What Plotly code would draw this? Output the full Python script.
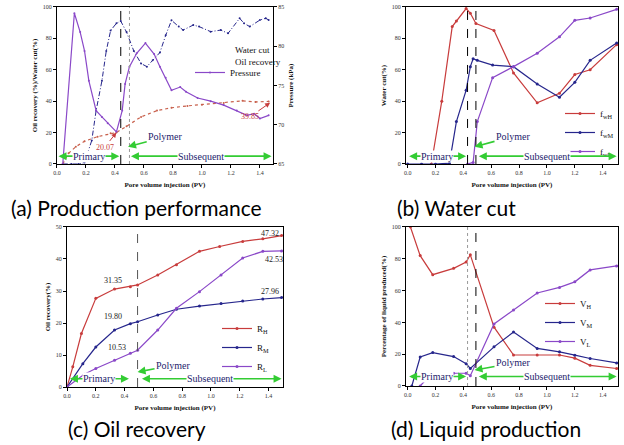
import plotly.graph_objects as go

# ---------------- Panel (a): production performance ----------------
pv_water_cut = [0.04, 0.10, 0.15, 0.19, 0.24, 0.27, 0.31, 0.34, 0.37, 0.41, 0.44, 0.48, 0.53, 0.58, 0.62,
                0.66, 0.71, 0.75, 0.79, 0.84, 0.87, 0.94, 0.98, 1.06, 1.13, 1.18, 1.26, 1.29, 1.33, 1.40, 1.44, 1.46]
water_cut = [0, 0, 0, 1, 15, 34, 53, 72, 85, 89.6, 91, 84, 72, 64, 62,
             66, 71, 82, 91.5, 87.5, 85.3, 88.5, 87.5, 84.3, 85.3, 83.2, 92.8, 89.6, 87.5, 91.7, 92.8, 91.7]

pv_oil = [0.04, 0.08, 0.13, 0.19, 0.28, 0.37, 0.41, 0.48, 0.58, 0.69, 0.79, 0.90, 1.00, 1.15, 1.28, 1.37, 1.46]
oil_recovery = [0, 6.8, 11, 14.5, 17.4, 19.5, 20.07, 24, 30, 34, 35.8, 37, 37.8, 38.8, 40.2, 39.5, 39.85]

pv_pressure = [0.04, 0.12, 0.16, 0.19, 0.22, 0.27, 0.31, 0.35, 0.41, 0.45, 0.47, 0.50, 0.55, 0.61, 0.67,
               0.71, 0.75, 0.79, 0.85, 0.89, 0.97, 1.06, 1.15, 1.24, 1.31, 1.36, 1.40, 1.46]
pressure = [65, 84.2, 81.8, 79.4, 75.6, 71.8, 71.0, 70.2, 69.1, 71.8, 75.2, 77.4, 79.1, 80.4, 79.0,
            77.4, 76.0, 74.4, 74.8, 74.2, 73.4, 73.0, 72.5, 71.8, 71.2, 71.4, 70.8, 71.2]

# ---------------- Panel (b): water cut by layer ----------------
pv_fwH = [0.17, 0.245, 0.32, 0.35, 0.42, 0.45, 0.49, 0.62, 0.76, 0.93, 1.09, 1.20, 1.31, 1.50]
f_wH = [0, 40, 87.5, 91, 99, 96, 89.5, 85, 58, 39, 45, 57, 60, 76]
pv_fwM = [0.0, 0.1, 0.2, 0.30, 0.35, 0.42, 0.45, 0.47, 0.50, 0.61, 0.76, 0.93, 1.09, 1.20, 1.31, 1.50]
f_wM = [0, 0, 0, 0.5, 27, 47, 62, 67, 66, 63, 62, 51, 42.5, 52, 66, 77]
pv_fwL = [0.43, 0.47, 0.50, 0.61, 0.76, 0.93, 1.09, 1.20, 1.31, 1.50]
f_wL = [0, 1, 27, 55, 62, 70.5, 81, 91.5, 93, 98.5]

# ---------------- Panel (c): oil recovery by layer ----------------
pv_RH = [0.0, 0.04, 0.10, 0.20, 0.33, 0.44, 0.49, 0.63, 0.76, 0.92, 1.06, 1.22, 1.36, 1.49]
R_H = [0, 6.3, 16.7, 27.7, 30.6, 31.35, 31.9, 35, 38.2, 42.4, 43.9, 45.5, 46.3, 47.32]
pv_RM = [0.0, 0.11, 0.20, 0.33, 0.44, 0.49, 0.63, 0.76, 0.92, 1.07, 1.22, 1.36, 1.49]
R_M = [0, 7.3, 12.5, 17.8, 19.8, 20.4, 22.5, 24.3, 25.3, 26.1, 26.9, 27.5, 27.96]
pv_RL = [0.0, 0.12, 0.20, 0.33, 0.44, 0.49, 0.63, 0.76, 0.92, 1.07, 1.22, 1.36, 1.49]
R_L = [0, 4, 5.8, 8.4, 10.53, 11.5, 17.8, 24.6, 29.8, 35, 40.3, 42.4, 42.53]

# ---------------- Panel (d): liquid production by layer ----------------
pv_VH = [0.02, 0.09, 0.18, 0.33, 0.42, 0.45, 0.62, 0.76, 0.93, 1.09, 1.20, 1.31, 1.50]
V_H = [100, 82, 70, 74, 78, 82.5, 37, 19.5, 19.5, 19.5, 17.5, 13, 11]
pv_VM = [0.03, 0.09, 0.18, 0.33, 0.42, 0.45, 0.62, 0.76, 0.93, 1.09, 1.20, 1.31, 1.50]
V_M = [0, 18.2, 21, 18.5, 14, 11, 24.6, 34, 23.6, 21.5, 19.4, 17.3, 14.5]
pv_VL = [0.09, 0.18, 0.33, 0.42, 0.45, 0.62, 0.76, 0.93, 1.09, 1.20, 1.31, 1.50]
V_L = [0, 8.5, 8, 8, 6.5, 39, 47.8, 58.5, 62, 65.5, 73, 75.5]

# phase boundaries (PV)
polymer_a = [0.44, 0.50]
polymer_b = [0.43, 0.49]
polymer_c = [0.49]
polymer_d = [0.43, 0.49]

x_ticks = [0.0, 0.2, 0.4, 0.6, 0.8, 1.0, 1.2, 1.4]

RED = "#c83c3c"
OILRED = "#c8604c"
NAVY = "#26268c"
PURPLE = "#8a48c8"
GREEN = "#33cc33"
TXT = "#1c1c6c"
SERIF = "Liberation Serif"

fig = go.Figure()


def add(x, y, xa, ya, name, color, dash="solid", legend="legend", showlegend=True, msize=3, width=1.2):
    fig.add_trace(go.Scatter(
        x=x, y=y, xaxis=xa, yaxis=ya, name=name, mode="lines+markers",
        line=dict(color=color, width=width, dash=dash),
        marker=dict(size=msize, color=color),
        legend=legend, showlegend=showlegend))


# (a)
add(pv_water_cut, water_cut, "x", "y", "Water cut", NAVY, dash="5px,2px,1px,2px", showlegend=False, msize=2, width=1)
add(pv_oil, oil_recovery, "x", "y", "Oil recovery", OILRED, dash="dot", showlegend=False, msize=2)
add(pv_pressure, pressure, "x", "y2", "Pressure", PURPLE, legend="legend", msize=2)
# (b)
add(pv_fwH, f_wH, "x2", "y3", "f<sub>wH</sub>", RED, legend="legend2")
add(pv_fwM, f_wM, "x2", "y3", "f<sub>wM</sub>", NAVY, legend="legend2")
add(pv_fwL, f_wL, "x2", "y3", "f<sub>wL</sub>", PURPLE, legend="legend2")
# (c)
add(pv_RH, R_H, "x3", "y4", "R<sub>H</sub>", RED, legend="legend3")
add(pv_RM, R_M, "x3", "y4", "R<sub>M</sub>", NAVY, legend="legend3")
add(pv_RL, R_L, "x3", "y4", "R<sub>L</sub>", PURPLE, legend="legend3")
# (d)
add(pv_VH, V_H, "x4", "y5", "V<sub>H</sub>", RED, legend="legend4")
add(pv_VM, V_M, "x4", "y5", "V<sub>M</sub>", NAVY, legend="legend4")
add(pv_VL, V_L, "x4", "y5", "V<sub>L</sub>", PURPLE, legend="legend4")

tickfont = dict(family=SERIF, size=6, color="#333333")
titlefont = dict(family=SERIF, size=7, color="#111111", weight="bold")


def xax(domain, anchor, rng):
    return dict(domain=domain, anchor=anchor, range=rng, tickvals=x_ticks, tickformat=".1f",
                showline=True, linecolor="black", linewidth=1, mirror=True, automargin=False,
                ticks="outside", ticklen=3, tickcolor="black", tickfont=tickfont,
                showgrid=False, zeroline=False,
                title=dict(text="Pore volume injection (PV)", font=titlefont, standoff=6))


def yax(domain, anchor, rng, dtick, title, mirror=True):
    return dict(domain=domain, anchor=anchor, range=rng, dtick=dtick, automargin=False,
                showline=True, linecolor="black", linewidth=1, mirror=mirror,
                ticks="outside", ticklen=3, tickcolor="black", tickfont=tickfont,
                showgrid=False, zeroline=False,
                title=dict(text=title, font=titlefont, standoff=4))


top_dom = [0.6315, 0.9843]
fig.update_layout(
    xaxis=xax([0.0913, 0.4375], "y", [0, 1.49]),
    yaxis=yax(top_dom, "x", [0, 100], 20, "Oil recovery (%)/Water cut(%)"),
    yaxis2=dict(overlaying="y", side="right", anchor="x", range=[65, 85], dtick=5, automargin=False,
                showline=True, linecolor="black", linewidth=1,
                ticks="outside", ticklen=3, tickcolor="black", tickfont=tickfont,
                showgrid=False, zeroline=False,
                title=dict(text="Pressure (kPa)", font=titlefont, standoff=4)),
    xaxis2=xax([0.6506, 0.9904], "y3", [-0.012, 1.51]),
    yaxis3=yax(top_dom, "x2", [0, 100], 20, "Water cut(%)"),
    xaxis3=xax([0.1074, 0.4535], "y4", [0, 1.5]),
    yaxis4=yax([0.1303, 0.4899], "x3", [0, 50], 10, "Oil recovery(%)"),
    xaxis4=xax([0.6506, 0.9904], "y5", [-0.012, 1.51]),
    yaxis5=yax([0.1326, 0.4899], "x4", [0, 100], 20, "Percentage of liquid produced(%)"),
)

legfont = dict(family=SERIF, size=9, color="#111111")
leg_common = dict(font=legfont, bgcolor="rgba(0,0,0,0)", borderwidth=0, xanchor="left", yanchor="top",
                  tracegroupgap=0, itemwidth=30)
fig.update_layout(
    legend=dict(x=190 / 624, y=1 - 58 / 445, **leg_common),
    legend2=dict(x=560 / 624, y=1 - 99 / 445, **leg_common),
    legend3=dict(x=217 / 624, y=1 - 314 / 445, **leg_common),
    legend4=dict(x=540 / 624, y=1 - 289 / 445, **leg_common),
)

shapes = []


def vline(xref, yref, x, color, dash):
    shapes.append(dict(type="line", xref=xref, yref=yref + " domain", x0=x, x1=x, y0=0, y1=1,
                       line=dict(color=color, width=1, dash=dash)))


vline("x", "y", polymer_a[0], "black", "dash")
vline("x", "y", polymer_a[1], "#999999", "dot")
vline("x2", "y3", polymer_b[0], "black", "dash")
vline("x2", "y3", polymer_b[1], "black", "dash")
vline("x3", "y4", polymer_c[0], "#555555", "dash")
vline("x4", "y5", polymer_d[0], "#999999", "dot")
vline("x4", "y5", polymer_d[1], "black", "dash")
fig.update_layout(shapes=shapes)

ann = []


def dbl_arrow(xr, yr, x0, x1, y):
    ann.append(dict(xref=xr, yref=yr, axref=xr, ayref=yr, x=x1, y=y, ax=x0, ay=y, text="",
                    showarrow=True, arrowside="end+start", arrowhead=2, arrowsize=1,
                    arrowwidth=1.6, arrowcolor=GREEN))


def label(xr, yr, x, y, text, size=10, color=TXT, bg="white"):
    ann.append(dict(xref=xr, yref=yr, x=x, y=y, text=text, showarrow=False, xanchor="center",
                    yanchor="middle", font=dict(family=SERIF, size=size, color=color),
                    bgcolor=bg, borderpad=0))


def pointer(xr, yr, tipx, tipy, tx, ty, text, color, size=10, tcolor=TXT, width=1.6):
    ann.append(dict(xref=xr, yref=yr, axref=xr, ayref=yr, x=tipx, y=tipy, ax=tx, ay=ty, text=text,
                    showarrow=True, arrowhead=2, arrowsize=1, arrowwidth=width, arrowcolor=color,
                    font=dict(family=SERIF, size=size, color=tcolor)))


# phase arrows and labels
phase = [("x", "y", 0.0, 0.43, 0.50, 1.48, 5, 0.22, 0.99, (0.49, 11), (0.75, 17.4)),
         ("x2", "y3", 0.0, 0.42, 0.50, 1.5, 5, 0.21, 1.0, (0.48, 11), (0.76, 17.6)),
         ("x3", "y4", 0.01, 0.43, 0.51, 1.49, 2.6, 0.22, 0.99, (0.49, 4.7), (0.74, 6.8)),
         ("x4", "y5", 0.0, 0.42, 0.50, 1.5, 6, 0.21, 1.0, (0.48, 10), (0.76, 14.5))]
for xr, yr, p0, p1, s0, s1, yy, ptx, stx, tip, txt in phase:
    dbl_arrow(xr, yr, p0, p1, yy)
    dbl_arrow(xr, yr, s0, s1, yy)
    label(xr, yr, ptx, yy, "Primary")
    label(xr, yr, stx, yy, "Subsequent")
    pointer(xr, yr, tip[0], tip[1], txt[0], txt[1], "Polymer", GREEN)

# value call-outs
pointer("x", "y", 0.41, 20, 0.33, 10.8, "20.07", RED, size=8, tcolor=RED, width=1)
pointer("x", "y", 1.47, 39, 1.33, 30, "39.85", RED, size=8, tcolor=RED, width=1)
for x, y, t in [(0.32, 33.4, "31.35"), (0.32, 21.9, "19.80"), (0.35, 12.5, "10.53"),
                (1.41, 48.1, "47.32"), (1.44, 39.7, "42.53"), (1.41, 29.7, "27.96")]:
    label("x3", "y4", x, y, t, size=8, color="#222222", bg="rgba(0,0,0,0)")

# legend texts without samples in panel (a)
for y, t in [(50, "Water cut"), (62, "Oil recovery")]:
    ann.append(dict(xref="paper", yref="paper", x=233 / 624, y=1 - y / 445, xanchor="left",
                    yanchor="middle", text=t, showarrow=False, font=legfont))

# captions
for x, y, t in [(136, 207, "(a) Production performance"), (457, 207, "(b) Water cut"),
                (137, 428, "(c) Oil recovery"), (486, 428, "(d) Liquid production")]:
    ann.append(dict(xref="paper", yref="paper", x=x / 624, y=1 - y / 445, text=t, showarrow=False,
                    xanchor="center", yanchor="middle",
                    font=dict(family="Lato", size=21, color="black")))

fig.update_layout(annotations=ann, width=624, height=445,
                  margin=dict(l=0, r=0, t=0, b=0, autoexpand=False),
                  paper_bgcolor="white", plot_bgcolor="white")

fig.write_html("out.html", config={"displayModeBar": False},
               post_script="document.body.style.margin='0';document.body.style.overflow='hidden';")
